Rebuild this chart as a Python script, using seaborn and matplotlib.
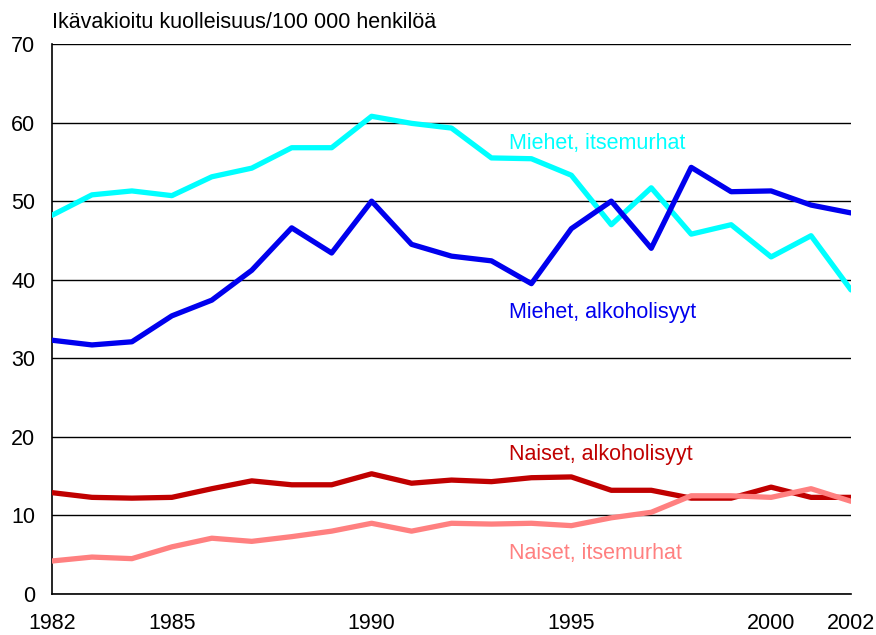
import pandas as pd
import seaborn as sns
import matplotlib.pyplot as plt

# Data
years = list(range(1982, 2003))
miehet_itsemurhat = [48.2, 50.8, 51.3, 50.7, 53.1, 54.2, 56.8, 56.8, 60.8, 59.9, 59.3,
                     55.5, 55.4, 53.3, 47.0, 51.7, 45.8, 47.0, 42.9, 45.6, 38.7]
miehet_alkoholi = [32.3, 31.7, 32.1, 35.4, 37.4, 41.2, 46.6, 43.4, 50.0, 44.5, 43.0,
                   42.4, 39.5, 46.5, 50.0, 44.0, 54.3, 51.2, 51.3, 49.5, 48.5]
naiset_alkoholi = [12.9, 12.3, 12.2, 12.3, 13.4, 14.4, 13.9, 13.9, 15.3, 14.1, 14.5,
                   14.3, 14.8, 14.9, 13.2, 13.2, 12.2, 12.2, 13.6, 12.3, 12.3]
naiset_itsemurhat = [4.2, 4.7, 4.5, 6.0, 7.1, 6.7, 7.3, 8.0, 9.0, 8.0, 9.0,
                     8.9, 9.0, 8.7, 9.7, 10.4, 12.5, 12.5, 12.3, 13.4, 11.8]
tick_years = [1982, 1985, 1990, 1995, 2000, 2002]

series = {
    "Miehet, itsemurhat": miehet_itsemurhat,
    "Miehet, alkoholisyyt": miehet_alkoholi,
    "Naiset, alkoholisyyt": naiset_alkoholi,
    "Naiset, itsemurhat": naiset_itsemurhat,
}
colors = {
    "Miehet, itsemurhat": "#00FFFF",
    "Miehet, alkoholisyyt": "#0000EE",
    "Naiset, alkoholisyyt": "#C00000",
    "Naiset, itsemurhat": "#FF8080",
}
label_y = {
    "Miehet, itsemurhat": 57.4,
    "Miehet, alkoholisyyt": 35.8,
    "Naiset, alkoholisyyt": 17.8,
    "Naiset, itsemurhat": 5.2,
}

df = pd.DataFrame([(y, name, v) for name, vals in series.items() for y, v in zip(years, vals)],
                  columns=["Vuosi", "Sarja", "Arvo"])

sns.set_style("white")
plt.rcParams['font.family'] = ['Liberation Sans', 'DejaVu Sans']

fig = plt.figure(figsize=(8.76, 6.35), dpi=100)
ax = fig.add_axes([52 / 876, 1 - 594 / 635, (851 - 52) / 876, (594 - 44) / 635])

sns.lineplot(data=df, x="Vuosi", y="Arvo", hue="Sarja", palette=colors,
             linewidth=3.8, legend=False, ax=ax, zorder=3)

for name, yv in label_y.items():
    ax.text(1993.45, yv, name, color=colors[name], fontsize=15.5, va="center", ha="left")

ax.set_xlim(1982, 2002)
ax.set_ylim(0, 70)
ax.set_yticks(range(0, 71, 10))
ax.set_xticks(years)
ax.set_xticklabels([str(y) if y in tick_years else "" for y in years])
ax.tick_params(axis="x", direction="out", length=11, width=1, color="black",
               labelsize=15.5, labelcolor="black", pad=3)
ax.tick_params(axis="y", length=0, labelsize=15.5, labelcolor="black", pad=12)
ax.grid(axis="y", color="black", linewidth=1)
ax.set_axisbelow(True)
for s in ["top", "right"]:
    ax.spines[s].set_visible(False)
for s in ["left", "bottom"]:
    ax.spines[s].set_color("black")
    ax.spines[s].set_linewidth(1.2)
ax.set_xlabel("")
ax.set_ylabel("")

fig.text(52 / 876, 1 - 22 / 635, "Ikävakioitu kuolleisuus/100 000 henkilöä",
         fontsize=15.5, color="black", va="center", ha="left")

fig.savefig("out.png", dpi=100)
